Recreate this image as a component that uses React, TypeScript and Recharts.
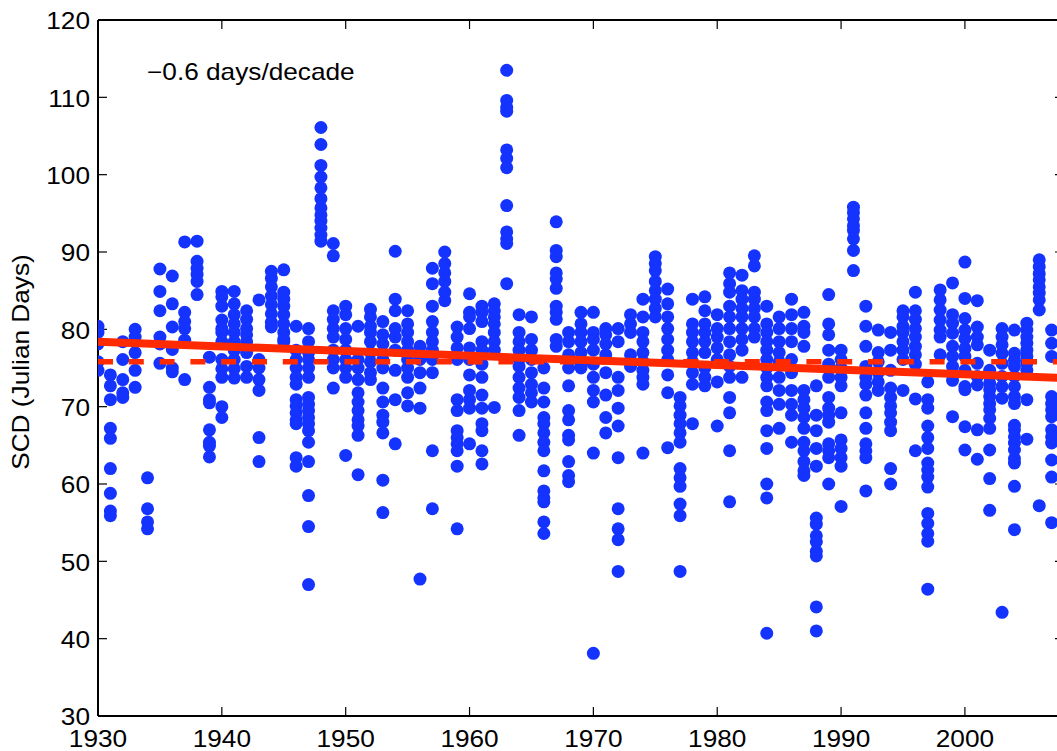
import React from 'react';
import { ScatterChart, Scatter, XAxis, YAxis } from 'recharts';

// SCD values per year, one inner list per year
const scd1930s: number[][] = [
  [80.4, 79.6, 78.1, 75.8, 74.7],
  [74.1, 72.7, 70.9, 67.2, 65.9, 62.0, 58.8, 56.5, 55.9],
  [78.4, 76.1, 73.5, 71.8, 71.2],
  [80.0, 79.0, 77.0, 74.7, 72.5],
  [60.8, 56.8, 55.1, 54.2],
  [87.8, 84.9, 82.4, 79.0, 78.1, 75.6],
  [86.9, 83.3, 80.3, 77.4, 75.0, 74.5],
  [91.3, 82.2, 81.0, 80.1, 78.6, 73.5],
  [91.4, 88.8, 87.9, 87.1, 86.2, 84.5],
  [76.4, 72.5, 70.9, 70.5, 67.0, 65.4, 64.9, 63.5],
];

const scd1940s: number[][] = [
  [84.9, 84.2, 83.0, 81.2, 80.1, 79.6, 78.4, 76.1, 74.9, 73.8, 70.0, 68.6],
  [84.9, 83.3, 81.9, 80.7, 79.6, 78.4, 77.3, 76.1, 74.9, 73.7],
  [82.4, 81.3, 80.1, 79.3, 78.4, 77.0, 75.2, 73.8],
  [83.8, 76.1, 75.0, 73.5, 72.1, 66.0, 62.9],
  [87.5, 86.6, 85.5, 84.3, 83.2, 82.0, 80.9, 80.3],
  [87.7, 84.8, 83.9, 83.0, 81.9, 80.7, 79.6, 78.7, 78.4],
  [80.4, 77.3, 76.1, 75.0, 73.8, 72.9, 70.9, 70.1, 69.2, 68.3, 67.8, 63.4, 62.3],
  [80.1, 78.4, 77.0, 76.1, 75.0, 73.8, 71.2, 70.3, 69.5, 68.6, 67.8, 66.9, 65.4, 62.9, 58.5, 54.5, 47.0],
  [106.1, 103.9, 101.2, 99.7, 98.3, 96.9, 95.7, 94.8, 94.0, 93.1, 92.2, 91.4],
  [91.1, 89.5, 82.4, 81.3, 80.1, 79.0, 77.3, 76.1, 75.0, 72.4],
];

const scd1950s: number[][] = [
  [83.0, 81.9, 80.1, 78.7, 77.3, 76.1, 75.0, 73.8, 63.7],
  [80.4, 76.1, 75.0, 73.5, 71.8, 70.6, 69.5, 68.3, 67.5, 66.3, 61.2],
  [82.6, 81.6, 80.4, 79.6, 78.4, 77.0, 75.8, 74.4, 73.5],
  [81.0, 79.3, 78.1, 76.1, 75.0, 72.4, 70.6, 68.9, 68.0, 66.6, 60.5, 56.3],
  [90.1, 83.9, 82.4, 80.1, 79.0, 77.3, 74.7, 70.9, 65.2],
  [82.4, 80.7, 79.6, 78.4, 77.3, 76.1, 75.0, 73.8, 71.8, 70.1],
  [77.8, 76.1, 74.4, 72.4, 69.8, 47.7],
  [87.9, 85.9, 83.0, 81.0, 79.6, 78.4, 77.3, 76.1, 74.4, 64.3, 56.8],
  [90.0, 88.5, 87.3, 86.2, 84.8, 83.7],
  [80.3, 79.0, 77.6, 76.1, 70.9, 69.5, 66.9, 66.0, 65.2, 64.3, 62.3, 54.2],
];

const scd1960s: number[][] = [
  [84.6, 82.2, 81.6, 80.1, 77.6, 76.1, 74.1, 72.1, 70.9, 69.8, 65.2],
  [83.0, 82.2, 81.0, 78.4, 77.3, 75.5, 73.8, 71.5, 69.8, 67.8, 66.9, 64.3, 62.6],
  [83.3, 82.4, 81.6, 80.7, 79.6, 78.4, 77.3, 69.9],
  [113.5, 109.6, 108.7, 108.2, 103.2, 102.1, 100.9, 96.0, 92.6, 91.7, 91.1, 85.9],
  [81.9, 79.6, 78.4, 77.3, 76.1, 75.2, 73.8, 72.4, 71.2, 69.5, 66.3],
  [81.6, 78.7, 77.3, 76.1, 74.4, 72.9, 71.8, 70.6],
  [75.0, 72.4, 70.6, 68.6, 67.8, 66.6, 65.4, 64.3, 61.7, 59.1, 58.2, 57.7, 55.1, 53.6],
  [93.9, 90.2, 89.4, 87.3, 86.5, 85.3, 83.0, 82.2, 81.3, 78.7, 77.8],
  [79.6, 78.4, 76.7, 75.0, 72.7, 69.5, 68.3, 66.3, 65.7, 62.9, 61.1, 60.3],
  [82.2, 80.7, 79.6, 78.4, 77.0, 75.5, 75.0],
];

const scd1970s: number[][] = [
  [82.2, 79.6, 78.7, 77.3, 75.5, 73.8, 72.1, 70.6, 64.0, 38.1],
  [80.1, 79.3, 78.1, 76.7, 74.4, 71.5, 68.6, 66.6],
  [80.1, 78.4, 73.8, 72.1, 69.8, 67.5, 63.4, 56.8, 54.2, 52.8, 48.7],
  [81.9, 80.7, 79.6, 76.7, 75.2],
  [83.9, 81.6, 79.6, 78.4, 77.0, 75.8, 74.7, 73.8, 72.9, 64.0],
  [89.4, 88.5, 87.6, 86.2, 85.0, 83.9, 82.7, 81.6],
  [85.2, 83.3, 81.6, 80.1, 78.7, 77.3, 76.1, 74.1, 71.8, 64.7],
  [71.2, 70.1, 68.9, 67.8, 66.6, 65.4, 62.0, 60.8, 59.7, 57.4, 55.9, 48.7],
  [83.9, 80.7, 79.6, 78.4, 77.0, 75.8, 74.4, 72.9, 67.8],
  [84.2, 82.4, 80.7, 79.6, 78.4, 77.0, 75.0, 73.8, 72.7],
];

const scd1980s: number[][] = [
  [81.9, 80.1, 79.0, 77.6, 76.1, 73.2, 67.5],
  [87.3, 85.9, 84.8, 83.0, 81.6, 80.1, 78.4, 76.7, 75.2, 73.8, 71.2, 69.2, 64.3, 57.7],
  [87.0, 85.0, 83.9, 82.7, 81.6, 80.1, 78.7, 77.3, 73.8],
  [89.5, 88.2, 84.8, 83.9, 82.7, 81.6, 80.1, 79.0],
  [83.0, 80.7, 79.6, 78.4, 77.3, 76.1, 75.0, 73.8, 72.7, 70.6, 69.5, 66.9, 64.6, 60.0, 58.2, 40.7],
  [81.6, 80.1, 78.4, 77.0, 75.8, 73.8, 72.1, 70.3, 67.2],
  [83.9, 81.9, 80.1, 78.4, 76.1, 74.4, 72.1, 70.3, 68.9, 65.4],
  [82.2, 80.4, 79.6, 77.8, 72.1, 70.9, 69.8, 68.6, 67.2, 65.4, 64.3, 62.9, 61.7, 61.1],
  [72.7, 68.9, 66.9, 64.6, 62.3, 55.6, 54.8, 53.3, 52.5, 51.3, 50.7, 44.1, 41.0],
  [84.5, 80.7, 79.3, 77.3, 75.5, 73.8, 71.2, 69.8, 68.9, 68.0, 65.2, 64.3, 63.4, 60.0],
];

const scd1990s: number[][] = [
  [77.3, 76.1, 75.0, 73.8, 72.7, 69.2, 65.7, 64.6, 63.4, 62.3, 57.1],
  [95.8, 95.1, 94.3, 93.4, 92.8, 91.7, 90.2, 87.6],
  [83.0, 80.4, 77.8, 75.2, 73.8, 72.9, 71.5, 69.2, 67.2, 65.2, 64.3, 63.4, 59.1],
  [79.9, 77.0, 75.8, 74.4, 73.2, 72.1],
  [79.6, 77.3, 74.7, 72.4, 71.2, 70.1, 69.2, 68.0, 66.9, 62.0, 60.0],
  [82.4, 81.6, 80.4, 79.6, 78.4, 77.3, 76.1, 72.1],
  [84.8, 82.4, 81.3, 80.1, 79.0, 77.8, 76.7, 75.5, 71.0, 64.3],
  [73.2, 70.9, 69.8, 67.5, 66.0, 64.6, 62.7, 61.8, 60.9, 59.6, 56.2, 54.9, 53.6, 52.6, 46.4],
  [85.1, 83.8, 82.5, 81.2, 79.9, 79.0, 76.7],
  [86.0, 81.9, 80.8, 79.5, 77.8, 76.5, 75.2, 73.4, 68.7],
];

const scd2000s: number[][] = [
  [88.7, 84.0, 81.4, 79.9, 78.8, 77.5, 76.5, 74.7, 72.6, 72.2, 67.4, 64.4],
  [83.7, 80.3, 79.0, 78.0, 75.6, 73.9, 72.8, 67.0, 63.2],
  [77.3, 74.7, 73.9, 73.0, 72.2, 71.3, 70.4, 69.6, 68.5, 67.2, 64.4, 60.7, 56.6],
  [80.1, 79.0, 78.0, 76.9, 75.6, 73.9, 72.6, 71.1, 43.4],
  [79.9, 76.9, 76.0, 75.2, 73.9, 72.6, 71.3, 70.4, 67.6, 67.0, 66.1, 65.3, 64.4, 63.3, 62.7, 59.7, 54.1],
  [80.8, 79.9, 79.0, 78.2, 77.3, 76.5, 75.6, 74.7, 70.9, 65.8],
  [89.0, 88.1, 87.2, 86.4, 85.5, 84.7, 83.8, 82.5, 57.2],
  [79.9, 78.2, 76.5, 71.3, 70.4, 69.6, 68.7, 67.0, 66.1, 65.3, 63.1, 60.9, 55.0],
];

const firstYear = 1930;
const trendYears = [1930, 2008];
const trendValues = [78.4, 73.7];
const meanValue = 75.8;
const xTicks = [1930, 1940, 1950, 1960, 1970, 1980, 1990, 2000];
const yTicks = [30, 40, 50, 60, 70, 80, 90, 100, 110, 120];

const BLUE = '#1433ff';
const RED = '#ff2a00';
const FONT = '"Liberation Sans", Arial, Helvetica, sans-serif';
const STRETCH = 1.14;

const allYears = [...scd1930s, ...scd1940s, ...scd1950s, ...scd1960s, ...scd1970s, ...scd1980s, ...scd1990s, ...scd2000s];
const points = allYears.flatMap((vals, i) => vals.map((v) => ({ x: firstYear + i, y: v })));
const trendPts = trendYears.map((yr, i) => ({ x: yr, y: trendValues[i] }));
const meanPts = trendYears.map((yr) => ({ x: yr, y: meanValue }));

const LeftTick = (props: any) => {
  const { x, y, payload } = props;
  return (
    <text transform={`translate(${x},${y}) scale(${STRETCH},1)`} textAnchor="end" dy="0.4em" fontSize={23} fill="#000" fontFamily={FONT}>
      {payload.value}
    </text>
  );
};

const BottomTick = (props: any) => {
  const { x, y, payload } = props;
  return (
    <text transform={`translate(${x},${y}) scale(${STRETCH},1)`} textAnchor="middle" dy="0.72em" fontSize={23} fill="#000" fontFamily={FONT}>
      {payload.value}
    </text>
  );
};

const NoTick = () => <g />;

const Dot = (props: any) => <circle cx={props.cx} cy={props.cy} r={6.5} fill={BLUE} />;

const axisLine = { stroke: '#000', strokeWidth: 2 };
const tickLine = { stroke: '#000', strokeWidth: 1.2 };

export default function App() {
  return (
    <div style={{ position: 'absolute', left: 0, top: 0, width: 1057, height: 751, overflow: 'hidden', background: '#fff', fontFamily: FONT }}>
      <ScatterChart width={1100} height={751} margin={{ top: 0, right: 0, bottom: 0, left: 0 }}>
        <XAxis type="number" dataKey="x" domain={[1930, 2008]} ticks={xTicks} interval={0} allowDataOverflow
          height={35} tickSize={-9} tickMargin={23} axisLine={axisLine} tickLine={tickLine} tick={BottomTick} />
        <XAxis xAxisId="top" orientation="top" type="number" dataKey="x" domain={[1930, 2008]} ticks={xTicks} interval={0} allowDataOverflow
          height={20} tickSize={-9} axisLine={axisLine} tickLine={tickLine} tick={NoTick} />
        <YAxis type="number" dataKey="y" domain={[30, 120]} ticks={yTicks} interval={0} allowDataOverflow
          width={98} tickSize={-9} tickMargin={17} axisLine={axisLine} tickLine={tickLine} tick={LeftTick} />
        <YAxis yAxisId="right" orientation="right" type="number" dataKey="y" domain={[30, 120]} ticks={yTicks} interval={0} allowDataOverflow
          width={36} tickSize={-9} axisLine={axisLine} tickLine={tickLine} tick={NoTick} />
        <Scatter data={points} shape={Dot} isAnimationActive={false} />
        <Scatter data={meanPts} shape={NoTick} line={{ stroke: RED, strokeWidth: 5.5, strokeDasharray: '15 15.8' }} lineType="joint" isAnimationActive={false} />
        <Scatter data={trendPts} shape={NoTick} line={{ stroke: RED, strokeWidth: 8 }} lineType="joint" isAnimationActive={false} />
      </ScatterChart>
      <svg width={1057} height={751} style={{ position: 'absolute', left: 0, top: 0, pointerEvents: 'none' }}>
        <text transform={`translate(147,80) scale(${STRETCH},1)`} fontSize={23} fill="#000" fontFamily={FONT}>
          −0.6 days/decade
        </text>
        <text transform={`translate(28.5,362) rotate(-90) scale(${STRETCH},1)`} textAnchor="middle" fontSize={23} fill="#000" fontFamily={FONT}>
          SCD (Julian Days)
        </text>
      </svg>
    </div>
  );
}
